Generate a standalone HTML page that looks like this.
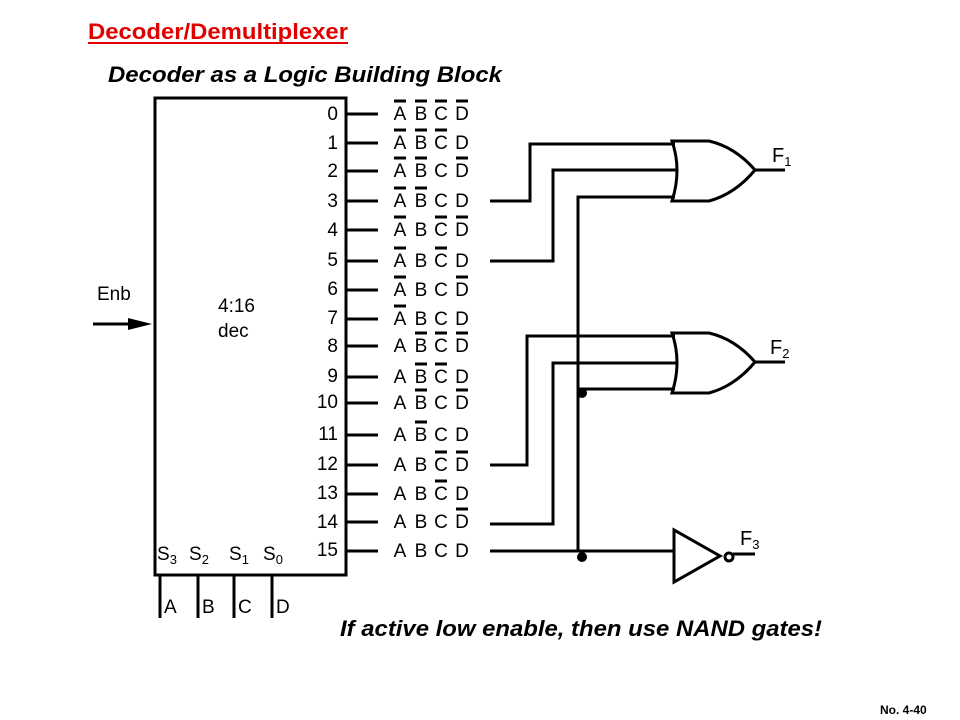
<!DOCTYPE html>
<html><head><style>body{margin:0;background:#fff}svg{display:block}</style></head><body>
<svg width="960" height="720" xmlns="http://www.w3.org/2000/svg" font-family="Liberation Sans, sans-serif">
<text x="88" y="39" font-size="22" font-weight="bold" fill="#e00000" textLength="260" lengthAdjust="spacingAndGlyphs">Decoder/Demultiplexer</text>
<line x1="88" y1="43" x2="348" y2="43" stroke="#e00000" stroke-width="2"/>
<text x="108" y="82" font-size="22" font-weight="bold" font-style="italic" textLength="394" lengthAdjust="spacingAndGlyphs">Decoder as a Logic Building Block</text>
<text x="340" y="636" font-size="22" font-weight="bold" font-style="italic" textLength="482" lengthAdjust="spacingAndGlyphs">If active low enable, then use NAND gates!</text>
<text x="880" y="714" font-size="12" font-weight="bold">No. 4-40</text>
<g stroke="#000" stroke-width="3" fill="none">
<rect x="155" y="98" width="191" height="477"/>
<line x1="160" y1="575" x2="160" y2="618"/><line x1="198" y1="575" x2="198" y2="618"/><line x1="234" y1="575" x2="234" y2="618"/><line x1="272" y1="575" x2="272" y2="618"/>
<line x1="93" y1="324" x2="132" y2="324"/>
<polyline points="490,201 530,201 530,144 675,144"/>
<polyline points="490,261 553,261 553,170 678,170"/>
<polyline points="675,197 578,197 578,551"/>
<polyline points="490,465 527,465 527,336 675,336"/>
<polyline points="490,524 553,524 553,363 678,363"/>
<line x1="578" y1="389" x2="675" y2="389"/>
<line x1="490" y1="551" x2="674" y2="551"/>
<path d="M672,141 Q682,170 672,201 L709,201 Q735,194 755,170 Q735,147 709,141 Z"/>
<line x1="755" y1="170" x2="785" y2="170"/>
<path d="M672,333 Q682,362 672,393 L709,393 Q735,386 755,362 Q735,339 709,333 Z"/>
<line x1="755" y1="362" x2="785" y2="362"/>
<path d="M674,530 L674,582 L720,556 Z"/>
<circle cx="729" cy="557" r="4"/>
<line x1="733" y1="554" x2="755" y2="554"/>
</g>
<polygon points="128,318 152,324 128,330" fill="#000"/>
<circle cx="582" cy="393" r="5"/><circle cx="582" cy="557" r="5"/>
<g font-size="19">
<text x="97" y="300">Enb</text>
<text x="218" y="312">4:16</text>
<text x="218" y="337">dec</text>
<text x="157" y="560">S<tspan font-size="13" dy="4">3</tspan></text>
<text x="189" y="560">S<tspan font-size="13" dy="4">2</tspan></text>
<text x="229" y="560">S<tspan font-size="13" dy="4">1</tspan></text>
<text x="263" y="560">S<tspan font-size="13" dy="4">0</tspan></text>
<text x="164" y="613">A</text><text x="202" y="613">B</text><text x="238" y="613">C</text><text x="276" y="613">D</text>
<text x="772" y="162" font-size="20">F<tspan font-size="13" dy="4">1</tspan></text>
<text x="770" y="354" font-size="20">F<tspan font-size="13" dy="4">2</tspan></text>
<text x="740" y="545" font-size="20">F<tspan font-size="13" dy="4">3</tspan></text>
</g>
<g stroke="#000" stroke-width="3">
<line x1="346" y1="114" x2="378" y2="114"/><line x1="346" y1="143" x2="378" y2="143"/><line x1="346" y1="171" x2="378" y2="171"/><line x1="346" y1="201" x2="378" y2="201"/>
<line x1="346" y1="230" x2="378" y2="230"/><line x1="346" y1="261" x2="378" y2="261"/><line x1="346" y1="290" x2="378" y2="290"/><line x1="346" y1="319" x2="378" y2="319"/>
<line x1="346" y1="346" x2="378" y2="346"/><line x1="346" y1="377" x2="378" y2="377"/><line x1="346" y1="403" x2="378" y2="403"/><line x1="346" y1="435" x2="378" y2="435"/>
<line x1="346" y1="465" x2="378" y2="465"/><line x1="346" y1="494" x2="378" y2="494"/><line x1="346" y1="522" x2="378" y2="522"/><line x1="346" y1="551" x2="378" y2="551"/>
</g>
<g font-size="19" text-anchor="end">
<text x="338" y="120">0</text><text x="338" y="149">1</text><text x="338" y="177">2</text><text x="338" y="207">3</text>
<text x="338" y="236">4</text><text x="338" y="266">5</text><text x="338" y="295">6</text><text x="338" y="324">7</text>
<text x="338" y="352">8</text><text x="338" y="382">9</text><text x="338" y="408">10</text><text x="338" y="440">11</text>
<text x="338" y="470">12</text><text x="338" y="499">13</text><text x="338" y="528">14</text><text x="338" y="556">15</text>
</g>
<g font-size="19" text-anchor="middle">
<text x="400" y="120">A</text><text x="421" y="120">B</text><text x="441" y="120">C</text><text x="462" y="120">D</text>
<text x="400" y="149">A</text><text x="421" y="149">B</text><text x="441" y="149">C</text><text x="462" y="149">D</text>
<text x="400" y="177">A</text><text x="421" y="177">B</text><text x="441" y="177">C</text><text x="462" y="177">D</text>
<text x="400" y="207">A</text><text x="421" y="207">B</text><text x="441" y="207">C</text><text x="462" y="207">D</text>
<text x="400" y="236">A</text><text x="421" y="236">B</text><text x="441" y="236">C</text><text x="462" y="236">D</text>
<text x="400" y="267">A</text><text x="421" y="267">B</text><text x="441" y="267">C</text><text x="462" y="267">D</text>
<text x="400" y="296">A</text><text x="421" y="296">B</text><text x="441" y="296">C</text><text x="462" y="296">D</text>
<text x="400" y="325">A</text><text x="421" y="325">B</text><text x="441" y="325">C</text><text x="462" y="325">D</text>
<text x="400" y="352">A</text><text x="421" y="352">B</text><text x="441" y="352">C</text><text x="462" y="352">D</text>
<text x="400" y="383">A</text><text x="421" y="383">B</text><text x="441" y="383">C</text><text x="462" y="383">D</text>
<text x="400" y="409">A</text><text x="421" y="409">B</text><text x="441" y="409">C</text><text x="462" y="409">D</text>
<text x="400" y="441">A</text><text x="421" y="441">B</text><text x="441" y="441">C</text><text x="462" y="441">D</text>
<text x="400" y="471">A</text><text x="421" y="471">B</text><text x="441" y="471">C</text><text x="462" y="471">D</text>
<text x="400" y="500">A</text><text x="421" y="500">B</text><text x="441" y="500">C</text><text x="462" y="500">D</text>
<text x="400" y="528">A</text><text x="421" y="528">B</text><text x="441" y="528">C</text><text x="462" y="528">D</text>
<text x="400" y="557">A</text><text x="421" y="557">B</text><text x="441" y="557">C</text><text x="462" y="557">D</text>
</g>
<g stroke="#000" stroke-width="3">
<!-- row 0: ABCD -->
<line x1="394" y1="101" x2="406" y2="101"/><line x1="415" y1="101" x2="427" y2="101"/><line x1="435" y1="101" x2="447" y2="101"/><line x1="456" y1="101" x2="468" y2="101"/>
<!-- row 1: ABC -->
<line x1="394" y1="130" x2="406" y2="130"/><line x1="415" y1="130" x2="427" y2="130"/><line x1="435" y1="130" x2="447" y2="130"/>
<!-- row 2: AB D -->
<line x1="394" y1="158" x2="406" y2="158"/><line x1="415" y1="158" x2="427" y2="158"/><line x1="456" y1="158" x2="468" y2="158"/>
<!-- row 3: AB -->
<line x1="394" y1="188" x2="406" y2="188"/><line x1="415" y1="188" x2="427" y2="188"/>
<!-- row 4: A CD -->
<line x1="394" y1="217" x2="406" y2="217"/><line x1="435" y1="217" x2="447" y2="217"/><line x1="456" y1="217" x2="468" y2="217"/>
<!-- row 5: A C -->
<line x1="394" y1="248" x2="406" y2="248"/><line x1="435" y1="248" x2="447" y2="248"/>
<!-- row 6: A D -->
<line x1="394" y1="277" x2="406" y2="277"/><line x1="456" y1="277" x2="468" y2="277"/>
<!-- row 7: A -->
<line x1="394" y1="306" x2="406" y2="306"/>
<!-- row 8: BCD -->
<line x1="415" y1="333" x2="427" y2="333"/><line x1="435" y1="333" x2="447" y2="333"/><line x1="456" y1="333" x2="468" y2="333"/>
<!-- row 9: BC -->
<line x1="415" y1="364" x2="427" y2="364"/><line x1="435" y1="364" x2="447" y2="364"/>
<!-- row 10: B D -->
<line x1="415" y1="390" x2="427" y2="390"/><line x1="456" y1="390" x2="468" y2="390"/>
<!-- row 11: B -->
<line x1="415" y1="422" x2="427" y2="422"/>
<!-- row 12: CD -->
<line x1="435" y1="452" x2="447" y2="452"/><line x1="456" y1="452" x2="468" y2="452"/>
<!-- row 13: C -->
<line x1="435" y1="481" x2="447" y2="481"/>
<!-- row 14: D -->
<line x1="456" y1="509" x2="468" y2="509"/>
</g>
</svg>
</body></html>
